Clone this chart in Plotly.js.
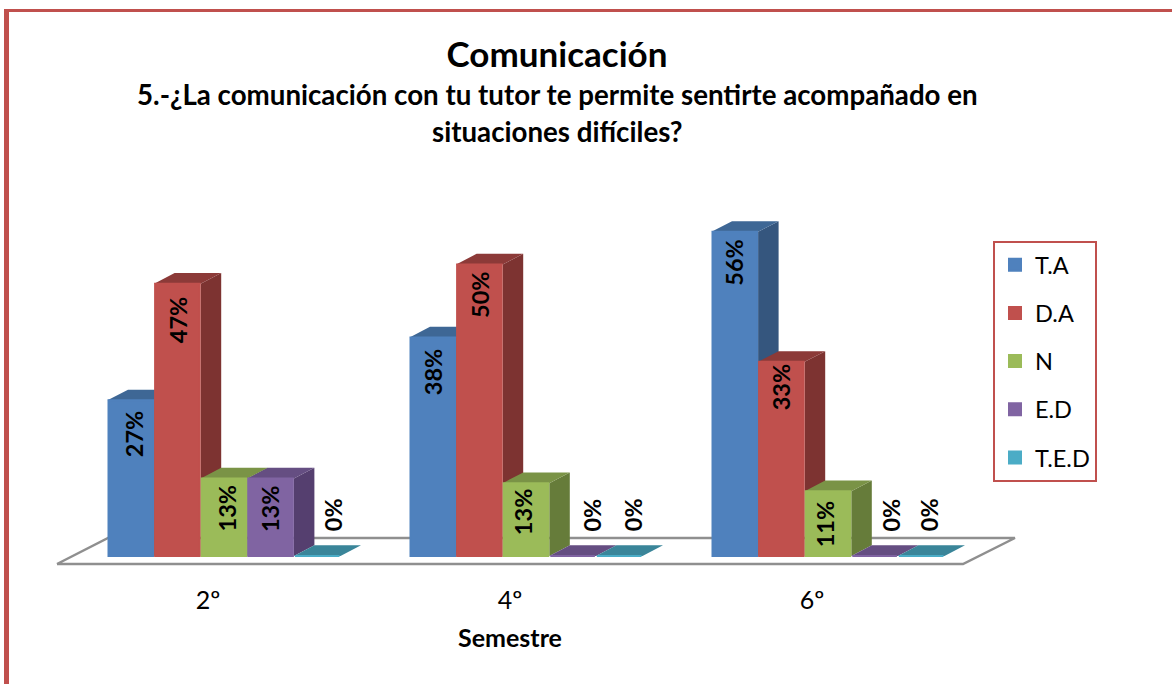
<!DOCTYPE html>
<html><head><meta charset="utf-8">
<script src="https://cdn.plot.ly/plotly-3.0.1.min.js"></script>
<style>html,body{margin:0;padding:0;background:#fff;overflow:hidden}#c{width:1172px;height:684px}</style>
</head><body><div id="c"></div>
<script>
// ---- data ----
const categories = ['2º','4º','6º'];
const seriesNames = ['T.A','D.A','N','E.D','T.E.D'];
const TA  = [26.7, 37.5, 55.6];
const DA  = [46.7, 50.0, 33.3];
const N   = [13.3, 12.5, 11.1];
const ED  = [13.3, 0, 0];
const TED = [0, 0, 0];
const seriesValues = [TA, DA, N, ED, TED];

// ---- styles ----
const frontColors = ['#4F81BD','#C0504D','#9BBB59','#8064A2','#4BACC6'];
const sideColors  = ['#35567E','#7D3331','#667C3A','#553F6F','#327285'];
const topColors   = ['#3E6795','#8C3A38','#7A9346','#654E82','#3A8599'];
const FONT = 'Lato, Carlito, "Open Sans", sans-serif';
const BORDER = '#C0504D';

// ---- layout geometry (px) ----
const W = 1172, H = 684;
const plotRight = 1020, plotTop = 170, plotBottom = 575;
const pitch = 302, firstCat = 208, barW = 46.6;
const pxPerPct = 5.83, baseline = 556;
const depthXpx = 20.5, depthYpx = 10.7;
const firstBarOffsetPx = -100.5;

const xRange = [(0 - firstCat) / pitch, (plotRight - firstCat) / pitch];
const yRange = [(baseline - plotBottom) / pxPerPct, (baseline - plotTop) / pxPerPct];
const dX = depthXpx / pitch, dY = depthYpx / pxPerPct;
const wU = barW / pitch;
const catIdx = categories.map((_, i) => i);
const stroke = 2; // outline in the bar's own colour, legend swatch grows with it
const paperX = px => px / plotRight;
const paperY = py => (plotBottom - py) / (plotBottom - plotTop);

const traces = [];
// floor
traces.push({
  type:'scatter', mode:'lines', x:[-0.5, 2.5, 2.672, -0.331, -0.5],
  y:[-8/pxPerPct, -8/pxPerPct, 18/pxPerPct, 18/pxPerPct, -8/pxPerPct],
  fill:'toself', fillcolor:'#FFFFFF', line:{color:'#8F8F8F', width:2.5},
  showlegend:false, hoverinfo:'skip', cliponaxis:false
});
const offsetOf = s => (firstBarOffsetPx + s * barW) / pitch;
// depth faces, painted under the fronts
seriesValues.forEach((vals, s) => {
  const sx = [], sy = [], tx = [], ty = [];
  vals.forEach((v, i) => {
    const L = i + offsetOf(s), R = L + wU;
    if (v > 0) {
      sx.push(R, R + dX, R + dX, R, R, null);
      sy.push(0, dY, v + dY, v, 0, null);
    }
    tx.push(L, L + dX, R + dX, R, L, null);
    ty.push(v, v + dY, v + dY, v, v, null);
  });
  if (sx.length) traces.push({type:'scatter', mode:'lines', x:sx, y:sy, fill:'toself',
    fillcolor:sideColors[s], line:{width:0, color:sideColors[s]}, showlegend:false, hoverinfo:'skip'});
  traces.push({type:'scatter', mode:'lines', x:tx, y:ty, fill:'toself',
    fillcolor:topColors[s], line:{width:0, color:topColors[s]}, showlegend:false, hoverinfo:'skip'});
});
// fronts, on an overlaid copy of the axes so that they sit above the faces
seriesValues.forEach((vals, s) => {
  traces.push({
    type:'bar', name:seriesNames[s], legendgroup:seriesNames[s],
    x:catIdx, y:vals, xaxis:'x2', yaxis:'y2',
    offset: offsetOf(s) + (stroke / 2) / pitch,
    width: wU - stroke / pitch,
    marker:{color:frontColors[s], line:{color:frontColors[s], width:stroke}},
    hoverinfo:'name+y'
  });
});

// value labels: nudges follow the hand placement in the reference (px below the bar top; negative = above)
const labelDx = [[4,1,-1],[0,0,-1],[3,-3,-3],[0,19,16],[16,14,8]];
const labelDrop = [[33,34,30],[36,30,25],[30,29,33],[30,-41,-41],[-41,-41,-41]];
const annotations = [];
seriesValues.forEach((vals, s) => vals.forEach((v, i) => {
  annotations.push({
    xref:'x', yref:'y', x: i + offsetOf(s) + wU / 2, y: v,
    text: Math.round(v) + '%', textangle:-90, showarrow:false,
    xanchor:'center', yanchor:'middle',
    xshift: labelDx[s][i], yshift: -labelDrop[s][i],
    font:{family:FONT, size:23.5, color:'#000', weight:700}
  });
}));
const sub = ['5.-¿La comunicación con tu tutor te permite sentirte acompañado en','situaciones difíciles?'];
[94, 131].forEach((py, k) => annotations.push({
  xref:'paper', yref:'paper', x:paperX(557), y:paperY(py), text:sub[k], showarrow:false,
  xanchor:'center', yanchor:'middle', font:{family:FONT, size:27.7, color:'#000', weight:700}
}));

const layout = {
  width:W, height:H, paper_bgcolor:'#fff', plot_bgcolor:'rgba(0,0,0,0)',
  margin:{l:0, r:W - plotRight, t:plotTop, b:H - plotBottom, pad:0, autoexpand:false},
  barmode:'overlay', showlegend:true,
  title:{text:'Comunicación', x:557/W, xanchor:'center', xref:'container',
    y:1 - 55/H, yanchor:'middle', yref:'container',
    font:{family:FONT, size:35, color:'#000', weight:700}},
  xaxis:{range:xRange, tickmode:'array', tickvals:catIdx, ticktext:categories, showgrid:false,
    zeroline:false, showline:false, ticks:'', fixedrange:true, ticklabelstandoff:8,
    tickfont:{family:FONT, size:25, color:'#000'},
    title:{text:'Semestre', standoff:16, font:{family:FONT, size:25, color:'#000', weight:700}}},
  yaxis:{range:yRange, visible:false, fixedrange:true},
  xaxis2:{range:xRange, overlaying:'x', visible:false, fixedrange:true, anchor:'y2'},
  yaxis2:{range:yRange, overlaying:'y', visible:false, fixedrange:true, anchor:'x2'},
  legend:{x:paperX(993), y:paperY(241), xanchor:'left', yanchor:'top', xref:'paper', yref:'paper',
    bgcolor:'#fff', bordercolor:BORDER, borderwidth:2, traceorder:'grouped', tracegroupgap:14.6,
    entrywidth:64, entrywidthmode:'pixels',
    font:{family:FONT, size:23.5, color:'#000'}},
  annotations,
  shapes:[
    {type:'rect', xref:'paper', yref:'paper', x0:paperX(4), x1:paperX(9), y0:paperY(684), y1:paperY(9), fillcolor:BORDER, line:{width:0}},
    {type:'rect', xref:'paper', yref:'paper', x0:paperX(4), x1:paperX(1172), y0:paperY(12), y1:paperY(9), fillcolor:BORDER, line:{width:0}}
  ]
};
Plotly.newPlot('c', traces, layout, {displayModeBar:false, staticPlot:true});
</script></body></html>
